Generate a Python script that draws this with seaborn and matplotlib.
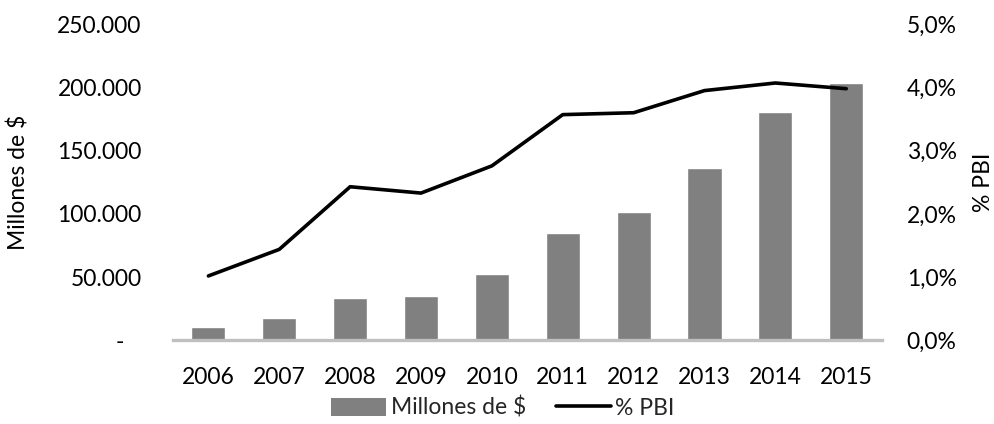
import numpy as np
import pandas as pd
import matplotlib
matplotlib.use("Agg")
import matplotlib.pyplot as plt
from matplotlib.ticker import FixedLocator
from matplotlib.lines import Line2D
from matplotlib.patches import Patch
import seaborn as sns

# Data
years = ["2006", "2007", "2008", "2009", "2010", "2011", "2012", "2013", "2014", "2015"]
millones = [10700, 17500, 33800, 35400, 52300, 84700, 101700, 136500, 180700, 203200]
pct_pbi = [1.02, 1.44, 2.43, 2.33, 2.76, 3.57, 3.60, 3.95, 4.07, 3.98]

left_ticks = [0, 50000, 100000, 150000, 200000, 250000]
left_labels = ["-   ", "50.000", "100.000", "150.000", "200.000", "250.000"]
right_ticks = [0, 1, 2, 3, 4, 5]
right_labels = ["0,0%", "1,0%", "2,0%", "3,0%", "4,0%", "5,0%"]

sns.set_theme(style="white")
plt.rcParams["font.family"] = ["Lato", "DejaVu Sans"]

FS = 16.5
bar_color = "#808080"

df = pd.DataFrame({"year": years, "millones": millones, "pct": pct_pbi,
                   "pos": np.arange(len(years))})

fig = plt.figure(figsize=(9.94, 4.24), dpi=100)
ax = fig.add_axes([0.174, 0.197, 0.713, 0.746])

sns.barplot(data=df, x="year", y="millones", color=bar_color, width=0.48,
            saturation=1, ax=ax, zorder=2)
ax.set_xlim(-0.5, len(years) - 0.5)
ax.set_ylim(0, 250000)
ax.yaxis.set_major_locator(FixedLocator(left_ticks))
ax.set_yticklabels(left_labels)
ax.set_xlabel("")
ax.set_ylabel("Millones de $", fontsize=FS, color="#000000", labelpad=20)
ax.tick_params(axis="y", length=0, pad=22.5, labelsize=FS, colors="#000000")
ax.tick_params(axis="x", length=0, pad=19, labelsize=FS, colors="#000000")

for s in ["top", "left", "right"]:
    ax.spines[s].set_visible(False)
ax.spines["bottom"].set_color("#bfbfbf")
ax.spines["bottom"].set_linewidth(2.4)
ax.spines["bottom"].set_zorder(3)

ax2 = ax.twinx()
sns.lineplot(data=df, x="pos", y="pct", color="#000000", linewidth=2.6, ax=ax2,
             zorder=4)
ax2.set_ylim(0, 5)
ax2.set_xlim(-0.5, len(years) - 0.5)
ax2.yaxis.set_major_locator(FixedLocator(right_ticks))
ax2.set_yticklabels(right_labels)
ax2.set_ylabel("% PBI", fontsize=FS, color="#000000", labelpad=11.5)
ax2.tick_params(axis="y", length=0, pad=18, labelsize=FS, colors="#000000")
ax2.set_xlabel("")
for s in ["top", "left", "right", "bottom"]:
    ax2.spines[s].set_visible(False)

handles = [Patch(facecolor=bar_color, edgecolor="none", label="Millones de $"),
           Line2D([0], [0], color="#000000", linewidth=2.6, label="% PBI")]
fig.legend(handles=handles, loc="center", bbox_to_anchor=(0.506, 0.038),
           ncol=2, frameon=False, fontsize=FS, handlelength=2.4,
           handleheight=0.85, handletextpad=0.2, columnspacing=1.3)

fig.savefig("out.png", dpi=100)
